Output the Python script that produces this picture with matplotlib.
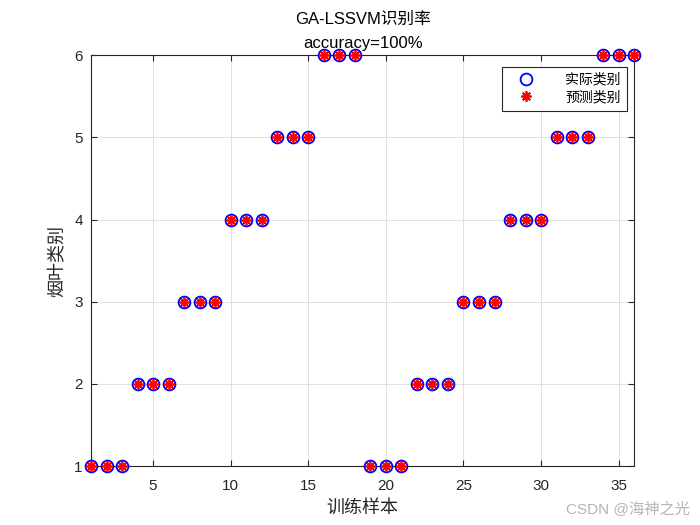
import matplotlib.pyplot as plt

plt.rcParams['font.family'] = ['Liberation Sans', 'Noto Sans CJK SC', 'DejaVu Sans']

samples = list(range(1, 37))
true_class = [1, 1, 1, 2, 2, 2, 3, 3, 3, 4, 4, 4, 5, 5, 5, 6, 6, 6,
              1, 1, 1, 2, 2, 2, 3, 3, 3, 4, 4, 4, 5, 5, 5, 6, 6, 6]
pred_class = [1, 1, 1, 2, 2, 2, 3, 3, 3, 4, 4, 4, 5, 5, 5, 6, 6, 6,
              1, 1, 1, 2, 2, 2, 3, 3, 3, 4, 4, 4, 5, 5, 5, 6, 6, 6]
xticks = [5, 10, 15, 20, 25, 30, 35]
yticks = [1, 2, 3, 4, 5, 6]

fig = plt.figure(figsize=(7, 5.25), dpi=100)
ax = fig.add_axes([0.13, 0.112, 0.776, 0.783])

# MATLAB 风格：蓝圈 + 红色星号
ax.plot(samples, true_class, 'o', color='#0000ff', markerfacecolor='none',
        markersize=8.5, markeredgewidth=1.3, label='实际类别', zorder=3,
        clip_on=False)
ax.plot(samples, pred_class, marker=(8, 2, 0), linestyle='none',
        color='#ff0000', markersize=7.5, markeredgewidth=1.3,
        label='预测类别', zorder=4, clip_on=False)

ax.set_xlim(1, 36)
ax.set_ylim(1, 6)
ax.set_xticks(xticks)
ax.set_yticks(yticks)
ax.tick_params(direction='in', labelsize=11, length=4, top=True, right=True,
               labeltop=False, labelright=False, colors='#262626')
ax.tick_params(axis='x', pad=9)
ax.tick_params(axis='y', pad=6)
ax.grid(True, color='#dcdcdc', linewidth=0.6)
ax.set_axisbelow(True)
for s in ax.spines.values():
    s.set_color('#262626')
    s.set_linewidth(0.8)

ax.set_title('GA-LSSVM识别率\naccuracy=100%', fontsize=12, color='#000000',
             linespacing=1.75, pad=5)
ax.set_xlabel('训练样本', fontsize=13, color='#262626', labelpad=5)
ax.set_ylabel('烟叶类别', fontsize=13, color='#262626', labelpad=6)

leg = ax.legend(loc='upper right', bbox_to_anchor=(0.987, 0.972),
                fontsize=10, frameon=True, fancybox=False,
                edgecolor='#262626', framealpha=1, borderpad=0.45,
                handlelength=2.5, handletextpad=1.6, labelspacing=0.25,
                borderaxespad=0)
leg.get_frame().set_linewidth(0.8)

fig.text(0.985, 0.015, 'CSDN @海神之光', ha='right', va='bottom',
         fontsize=11, color='#b4b4b4')

fig.savefig('out.png', dpi=100)
plt.close(fig)
